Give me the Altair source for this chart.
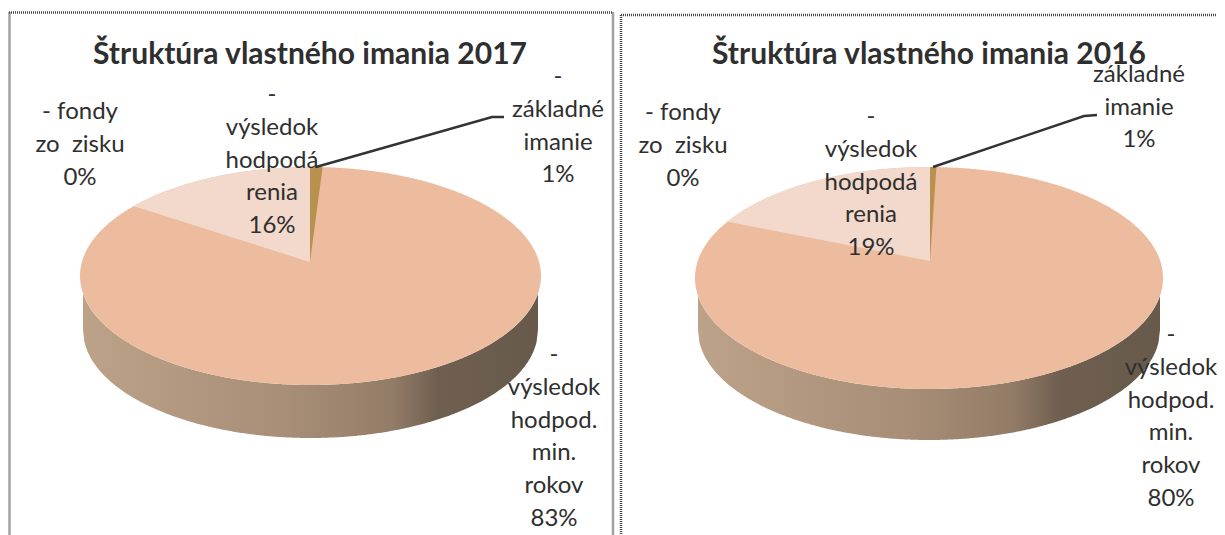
import numpy as np
import pandas as pd
import altair as alt

# Values (percent shares, clockwise from 12 o'clock)
categories = ["základné imanie", "výsledok hodpod. min. rokov", "výsledok hodpodárenia", "fondy zo zisku"]
shares_2017 = [1.0, 83.0, 16.0, 0.0]
shares_2016 = [0.5, 80.5, 19.0, 0.0]
shown_2017 = ["1%", "83%", "16%", "0%"]
shown_2016 = ["1%", "80%", "19%", "0%"]
label_2017 = "Štruktúra vlastného imania 2017"
label_2016 = "Štruktúra vlastného imania 2016"
label_lines = {
    "základné imanie": "-\nzákladné\nimanie\n",
    "výsledok hodpod. min. rokov": "-\nvýsledok\nhodpod.\nmin.\nrokov\n",
    "výsledok hodpodárenia": "-\nvýsledok\nhodpodá\nrenia\n",
    "fondy zo zisku": "- fondy\nzo \u00a0zisku\n",
}

FONT = "Lato"
TEXT = "#2f2f2f"
FORESHORTEN = 0.87
W, H = 1209, 527
X = alt.X("x:Q", axis=None, scale=alt.Scale(domain=[8, 8 + W], range=[0, W], nice=False, zero=False))
Y = alt.Y("y:Q", axis=None, scale=alt.Scale(domain=[8, 8 + H], range=[0, H], nice=False, zero=False))

panels = [
    dict(shares=shares_2017, shown=shown_2017, title=label_2017, cx=310.5, cy=276, rx=230.5, ry=109,
         ax=310, ay=262, depth=54, title_x=310,
         label_at=[(558, 77), (554, 355), (272, 95), (80, 112)], leader=[(316, 167), (492, 117), (504, 117)]),
    dict(shares=shares_2016, shown=shown_2016, title=label_2016, cx=929, cy=278, rx=234, ry=111,
         ax=930, ay=261, depth=52, title_x=929,
         label_at=[(1139, 42), (1171, 335), (871, 117), (683, 113)], leader=[(933, 167), (1084, 116), (1097, 115)]),
]


def top_edge(p, x):
    return p["cy"] - p["ry"] * np.sqrt(np.clip(1 - ((x - p["cx"]) / p["rx"]) ** 2, 0, 1))


def bottom_edge(p, x, rx=None, cy=None, ry=None):
    rx = rx or p["rx"]
    cy = cy or p["cy"]
    ry = ry or p["ry"]
    return cy + ry * np.sqrt(np.clip(1 - ((x - p["cx"]) / rx) ** 2, 0, 1))


def rim_frame(p):
    rx = p["rx"] - 3
    xs = np.linspace(p["cx"] - rx, p["cx"] + rx, 300)
    return pd.DataFrame({"x": xs, "y": bottom_edge(p, xs),
                         "y2": bottom_edge(p, xs, rx=rx, cy=p["cy"] + p["depth"], ry=p["ry"] - 1)})


def disc_frame(p):
    t = np.linspace(-np.pi / 2, np.pi / 2, 400)
    xs = p["cx"] + p["rx"] * np.sin(t)
    return pd.DataFrame({"x": xs, "y": top_edge(p, xs), "y2": bottom_edge(p, xs)})


def wedge_frame(p, x_from, x_to, at_x):
    # Upper edge follows the ellipse, lower edge is the radius through the apex.
    xs = np.linspace(x_from, x_to, 200)
    top = top_edge(p, xs)
    y_at = top_edge(p, np.array([at_x]))[0]
    low = y_at + (p["ay"] - y_at) * (xs - at_x) / (p["ax"] - at_x)
    return pd.DataFrame({"x": xs, "y": top, "y2": low})


def edge_x(p, share, side):
    a = np.radians(share * 3.6 * FORESHORTEN)
    return p["cx"] + side * p["rx"] * np.sin(a)


layers = []
bg = "#ffffff"

frame_rows = [
    (9.5, 12.5, 9.5, 535), (9, 12.5, 613, 12.5), (613, 12.5, 613, 535),
    (621, 15, 621, 535), (621, 15, 1225, 15),
]
frame_df = pd.DataFrame(frame_rows, columns=["x", "y", "x2", "y2"])
layers.append(alt.Chart(frame_df).mark_rule(color="#444444", strokeWidth=2.5, strokeDash=[1, 1]).encode(
    x=X, y=Y, x2="x2:Q", y2="y2:Q"))

rim_fill = alt.Gradient(gradient="linear", x1=0, x2=1, y1=0, y2=0, stops=[
    alt.GradientStop(offset=0, color="#BBA288"),
    alt.GradientStop(offset=0.45, color="#A88E77"),
    alt.GradientStop(offset=0.68, color="#937C67"),
    alt.GradientStop(offset=0.78, color="#6F5F50"),
    alt.GradientStop(offset=1, color="#675A4B"),
])

for p in panels:
    layers.append(alt.Chart(rim_frame(p)).mark_area(color=rim_fill, interpolate="linear").encode(x=X, y=Y, y2="y2:Q"))
    layers.append(alt.Chart(disc_frame(p)).mark_area(color="#EDBC9E").encode(x=X, y=Y, y2="y2:Q"))
    x_pale = edge_x(p, p["shares"][2] + p["shares"][3], -1)
    layers.append(alt.Chart(wedge_frame(p, x_pale, p["ax"], x_pale)).mark_area(color="#F2D9CC").encode(x=X, y=Y, y2="y2:Q"))
    x_gold = edge_x(p, p["shares"][0], 1) + (p["ax"] - p["cx"])
    layers.append(alt.Chart(wedge_frame(p, p["ax"], x_gold, x_gold)).mark_area(color="#B8914F").encode(x=X, y=Y, y2="y2:Q"))

    leader = pd.DataFrame(p["leader"], columns=["x", "y"]).assign(o=range(3))
    layers.append(alt.Chart(leader).mark_line(color="#333333", strokeWidth=2.5).encode(x=X, y=Y, order="o:Q"))

    rows = [dict(x=pos[0], y=pos[1], t=label_lines[c] + s)
            for c, s, pos in zip(categories, p["shown"], p["label_at"])]
    layers.append(alt.Chart(pd.DataFrame(rows)).mark_text(
        font=FONT, fontSize=24, color=TEXT, lineBreak="\n", lineHeight=32.8, align="center", baseline="middle",
        clip=False).encode(x=X, y=Y, text="t:N"))
    layers.append(alt.Chart(pd.DataFrame([dict(x=p["title_x"], y=55, t=p["title"])])).mark_text(
        font=FONT, fontSize=30, fontWeight="bold", color=TEXT, align="center", baseline="middle").encode(
        x=X, y=Y, text="t:N"))

chart = alt.layer(*layers).properties(width=W, height=H, padding=0, autosize="none", background=bg).configure_view(stroke=None)
chart.save("out.html", embed_options={"renderer": "svg", "actions": False})
